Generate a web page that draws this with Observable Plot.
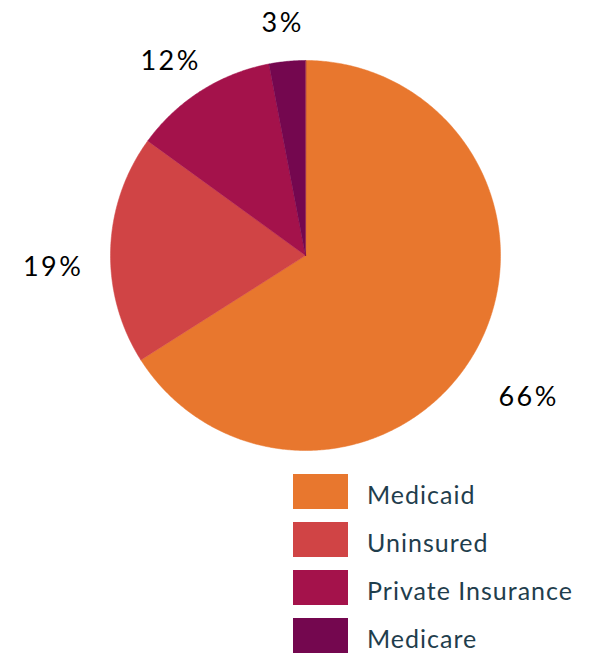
<!DOCTYPE html>
<html>
<head>
<meta charset="utf-8">
<script src="https://cdn.jsdelivr.net/npm/d3@7"></script>
<script src="https://cdn.jsdelivr.net/npm/@observablehq/plot@0.6"></script>
<style>
  html, body { margin: 0; padding: 0; background: #fff; }
  #chart { width: 589px; }
  .legend { margin-top: 9px; margin-left: 293px; display: flex; flex-direction: column; gap: 13px; }
  .row { display: flex; align-items: center; height: 35px; }
  .sw { width: 55px; height: 35px; margin-right: 19px; flex: none; }
  .lab { font-family: Lato, sans-serif; font-size: 25px; letter-spacing: 1px; color: #1f3e4d; line-height: 35px; position: relative; top: 3px; white-space: nowrap; }
</style>
</head>
<body>
<div id="chart"></div>
<script>
const categories = ["Medicaid", "Uninsured", "Private Insurance", "Medicare"];
const values = [66, 19, 12, 3];
const labels = ["66%", "19%", "12%", "3%"];
const colors = ["#e8772e", "#d04445", "#a4124b", "#74074f"];

const total = d3.sum(values);
const slicePts = [];
const labelPts = [];
let acc = 0;
categories.forEach((name, i) => {
  const a0 = acc / total * 2 * Math.PI;
  acc += values[i];
  const a1 = acc / total * 2 * Math.PI;
  slicePts.push({name, x: 0, y: 0});
  const n = Math.max(2, Math.ceil((a1 - a0) / (Math.PI / 360)));
  for (let k = 0; k <= n; k++) {
    const a = a0 + (a1 - a0) * k / n;
    slicePts.push({name, x: Math.sin(a), y: Math.cos(a)});
  }
  const am = (a0 + a1) / 2;
  labelPts.push({name, label: labels[i], x: 1.3 * Math.sin(am), y: 1.3 * Math.cos(am)});
});

const chart = Plot.plot({
  width: 589,
  height: 465,
  marginLeft: 110,
  marginRight: 89,
  marginTop: 60,
  marginBottom: 15,
  x: {domain: [-1, 1], axis: null},
  y: {domain: [-1, 1], axis: null},
  color: {domain: categories, range: colors},
  style: {overflow: "visible"},
  marks: [
    Plot.line(slicePts, {x: "x", y: "y", z: "name", fill: "name", stroke: "name", strokeWidth: 0.5, curve: "linear-closed"}),
    Plot.text(labelPts, {x: "x", y: "y", text: "label", dy: 20, dx: 1, fontSize: 27, fill: "#000", fontFamily: "Lato, sans-serif", style: "letter-spacing: 2.5px"})
  ]
});
chart.querySelectorAll("text").forEach(t => t.style.letterSpacing = "2.5px");
document.getElementById("chart").appendChild(chart);

const colorScale = chart.scale("color");
const legend = document.createElement("div");
legend.className = "legend";
categories.forEach(name => {
  const row = document.createElement("div");
  row.className = "row";
  const sw = document.createElement("div");
  sw.className = "sw";
  sw.style.background = colorScale.apply(name);
  const lab = document.createElement("span");
  lab.className = "lab";
  lab.textContent = name;
  row.appendChild(sw);
  row.appendChild(lab);
  legend.appendChild(row);
});
document.body.appendChild(legend);
</script>
</body>
</html>
